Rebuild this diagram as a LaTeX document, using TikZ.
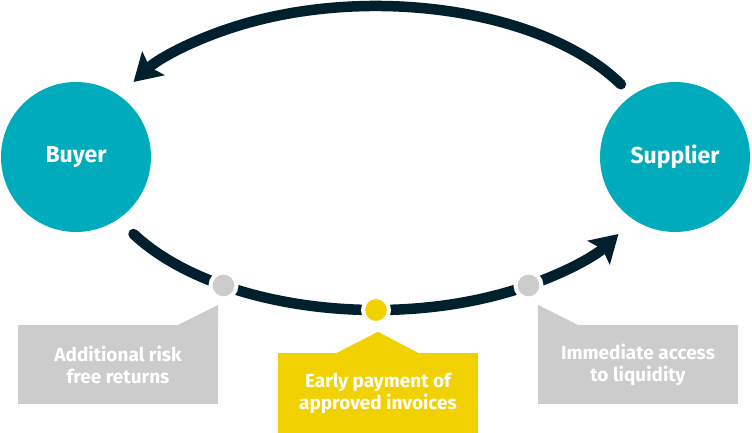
\documentclass[tikz,border=0pt]{standalone}
\usepackage{fontspec}
\setmainfont{Fira Sans}
\usetikzlibrary{arrows.meta,positioning,calc}
\definecolor{partyteal}{HTML}{00ACBC}
\definecolor{flownavy}{HTML}{00202D}
\definecolor{notegrey}{HTML}{CCCCCC}
\definecolor{noteyellow}{HTML}{F2D100}

\begin{document}
\begin{tikzpicture}[x=1pt,y=1pt,
	party/.style={circle,fill=partyteal,minimum size=150pt,inner sep=0pt,text=white,font=\bfseries\fontsize{23}{26}\selectfont},
	flow/.style={draw=flownavy,line width=10.5pt,line cap=round,-{Stealth[length=27pt,width=32pt,inset=5pt]}},
	dot/.style={circle,draw=white,line width=4pt,minimum size=26pt,inner sep=0pt},
	note/.style={minimum width=200pt,minimum height=79pt,inner sep=0pt,text=white,align=center,font=\bfseries\fontsize{19}{22}\selectfont}]
	\useasboundingbox (0,0) rectangle (752,433);
	\node (buyer) at (76,276) [party] {Buyer};
	\node (supplier) at (675,276) [party] {Supplier};
	\coordinate (hub) at (376,275);
	\draw[flow] ($(hub)+(29:280pt and 152pt)$) arc[start angle=29,end angle=150,x radius=280pt,y radius=152pt];
	\draw[flow] ($(hub)+(210:280pt and 152pt)$) arc[start angle=210,end angle=330,x radius=280pt,y radius=152pt];
	\node (riskdot) at ($(hub)+(237:280pt and 152pt)$) [dot,fill=notegrey] {};
	\node (paydot) at ($(hub)+(270:280pt and 152pt)$) [dot,fill=noteyellow] {};
	\node (cashdot) at ($(hub)+(303:280pt and 152pt)$) [dot,fill=notegrey] {};
	\node (risk) at (118,68.5) [note,fill=notegrey] {Additional risk\\free returns};
	\fill[notegrey] ([xshift=-40pt]risk.north east) -- ([yshift=20pt]risk.north east) -- (risk.north east) -- cycle;
	\node (pay) at (378,40) [note,fill=noteyellow,minimum height=80pt] {Early payment of\\approved invoices};
	\fill[noteyellow] ([xshift=-41pt]pay.north) -- ([yshift=21pt]pay.north) -- ([xshift=40pt]pay.north) -- cycle;
	\node (cash) at (638,68.5) [note,fill=notegrey] {Immediate access\\to liquidity};
	\fill[notegrey] (cash.north west) -- ([yshift=20pt]cash.north west) -- ([xshift=40pt]cash.north west) -- cycle;
\end{tikzpicture}
\end{document}
